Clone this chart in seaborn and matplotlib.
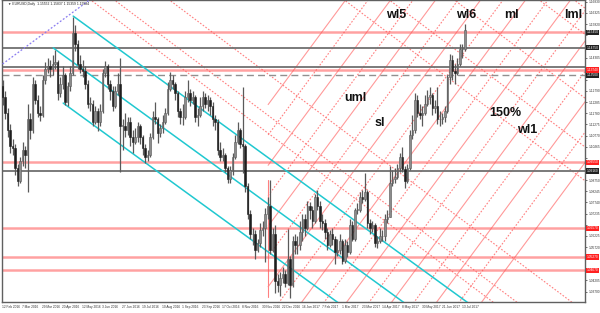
import numpy as np
import pandas as pd
import matplotlib
matplotlib.use("Agg")
import matplotlib.pyplot as plt
import seaborn as sns

sns.set_style("white")
plt.rcParams["font.family"] = ["Liberation Sans", "DejaVu Sans"]

# ---------------- data (2-day bars, EURUSD daily, Feb 2016 - Jul 2017) ----------------
first_open = 1.1300
close = [1.1250, 1.1180, 1.1100, 1.1030, 1.1020, 1.0930, 1.0870, 1.0960, 1.1010, 1.0990,
         1.1150, 1.1100, 1.1310, 1.1240, 1.1180, 1.1170, 1.1330, 1.1380, 1.1390, 1.1380,
         1.1400, 1.1410, 1.1270, 1.1310, 1.1350, 1.1230, 1.1300, 1.1360, 1.1540, 1.1490,
         1.1400, 1.1380, 1.1370, 1.1310, 1.1220, 1.1220, 1.1140, 1.1190, 1.1140, 1.1190,
         1.1360, 1.1390, 1.1310, 1.1280, 1.1210, 1.1280, 1.1310, 1.1120, 1.1120, 1.1100,
         1.1140, 1.1070, 1.1050, 1.1070, 1.1120, 1.1070, 1.1020, 1.0980, 1.0990, 1.1070,
         1.1160, 1.1150, 1.1090, 1.1110, 1.1140, 1.1180, 1.1290, 1.1330, 1.1310, 1.1270,
         1.1190, 1.1160, 1.1160, 1.1250, 1.1270, 1.1240, 1.1250, 1.1160, 1.1170, 1.1210,
         1.1250, 1.1220, 1.1240, 1.1210, 1.1150, 1.1140, 1.1010, 1.0980, 1.0990, 1.0930,
         1.0880, 1.0920, 1.0980, 1.1050, 1.1100, 1.1040, 1.1030, 1.0850, 1.0720, 1.0630,
         1.0630, 1.0560, 1.0590, 1.0650, 1.0660, 1.0720, 1.0760, 1.0560, 1.0630, 1.0420,
         1.0400, 1.0430, 1.0450, 1.0410, 1.0520, 1.0400, 1.0600, 1.0580, 1.0580, 1.0640,
         1.0700, 1.0660, 1.0760, 1.0740, 1.0690, 1.0800, 1.0760, 1.0690, 1.0680, 1.0640,
         1.0580, 1.0630, 1.0610, 1.0550, 1.0560, 1.0600, 1.0510, 1.0580, 1.0550, 1.0670,
         1.0610, 1.0740, 1.0740, 1.0800, 1.0790, 1.0820, 1.0680, 1.0660, 1.0670, 1.0590,
         1.0600, 1.0620, 1.0620, 1.0700, 1.0710, 1.0860, 1.0880, 1.0890, 1.0930, 1.0980,
         1.0925, 1.0870, 1.0930, 1.1080, 1.1100, 1.1240, 1.1180, 1.1170, 1.1180, 1.1220,
         1.1250, 1.1260, 1.1200, 1.1210, 1.1150, 1.1150, 1.1160, 1.1190, 1.1340, 1.1420,
         1.1370, 1.1360, 1.1400, 1.1470, 1.1470, 1.1555]
high = [1.1330, 1.1280, 1.1200, 1.1130, 1.1060, 1.1040, 1.0950, 1.0980, 1.1050, 1.1030,
        1.1220, 1.1180, 1.1340, 1.1330, 1.1260, 1.1210, 1.1350, 1.1410, 1.1430, 1.1420,
        1.1440, 1.1465, 1.1420, 1.1340, 1.1390, 1.1360, 1.1320, 1.1390, 1.1616, 1.1580,
        1.1510, 1.1440, 1.1420, 1.1390, 1.1330, 1.1250, 1.1240, 1.1210, 1.1200, 1.1220,
        1.1380, 1.1416, 1.1400, 1.1330, 1.1300, 1.1300, 1.1360, 1.1428, 1.1150, 1.1180,
        1.1160, 1.1160, 1.1100, 1.1110, 1.1140, 1.1130, 1.1080, 1.1040, 1.1010, 1.1090,
        1.1190, 1.1230, 1.1160, 1.1130, 1.1170, 1.1200, 1.1320, 1.1366, 1.1350, 1.1320,
        1.1280, 1.1200, 1.1220, 1.1280, 1.1327, 1.1290, 1.1280, 1.1260, 1.1200, 1.1250,
        1.1280, 1.1270, 1.1260, 1.1250, 1.1230, 1.1170, 1.1150, 1.1050, 1.1020, 1.1000,
        1.0940, 1.0940, 1.1000, 1.1080, 1.1140, 1.1110, 1.1299, 1.1040, 1.0860, 1.0740,
        1.0660, 1.0650, 1.0610, 1.0680, 1.0690, 1.0750, 1.0800, 1.0874, 1.0660, 1.0670,
        1.0450, 1.0460, 1.0480, 1.0470, 1.0652, 1.0530, 1.0620, 1.0630, 1.0620, 1.0690,
        1.0720, 1.0720, 1.0780, 1.0775, 1.0760, 1.0810, 1.0829, 1.0780, 1.0720, 1.0700,
        1.0660, 1.0650, 1.0660, 1.0620, 1.0610, 1.0630, 1.0610, 1.0610, 1.0600, 1.0700,
        1.0690, 1.0750, 1.0770, 1.0820, 1.0830, 1.0906, 1.0830, 1.0700, 1.0690, 1.0680,
        1.0620, 1.0660, 1.0650, 1.0720, 1.0740, 1.0937, 1.0920, 1.0930, 1.0950, 1.1000,
        1.1023, 1.0940, 1.0950, 1.1100, 1.1170, 1.1268, 1.1260, 1.1220, 1.1210, 1.1260,
        1.1285, 1.1296, 1.1270, 1.1240, 1.1296, 1.1190, 1.1180, 1.1210, 1.1350, 1.1445,
        1.1440, 1.1400, 1.1430, 1.1490, 1.1490, 1.1583]
low = [1.1215, 1.1150, 1.1070, 1.1000, 1.0990, 1.0900, 1.0850, 1.0860, 1.0940, 1.0930,
       1.0822, 1.1060, 1.1090, 1.1220, 1.1160, 1.1145, 1.1160, 1.1310, 1.1360, 1.1340,
       1.1350, 1.1380, 1.1240, 1.1250, 1.1290, 1.1215, 1.1210, 1.1280, 1.1350, 1.1460,
       1.1380, 1.1360, 1.1340, 1.1290, 1.1200, 1.1190, 1.1120, 1.1130, 1.1098, 1.1120,
       1.1180, 1.1340, 1.1290, 1.1240, 1.1190, 1.1200, 1.1260, 1.0912, 1.1010, 1.1070,
       1.1080, 1.1030, 1.1000, 1.1040, 1.1050, 1.1040, 1.0990, 1.0952, 1.0960, 1.0980,
       1.1060, 1.1130, 1.1045, 1.1070, 1.1090, 1.1130, 1.1170, 1.1280, 1.1290, 1.1240,
       1.1160, 1.1130, 1.1124, 1.1150, 1.1230, 1.1210, 1.1220, 1.1140, 1.1120, 1.1160,
       1.1190, 1.1200, 1.1190, 1.1170, 1.1120, 1.1100, 1.0990, 1.0960, 1.0960, 1.0910,
       1.0860, 1.0860, 1.0900, 1.0970, 1.1040, 1.1020, 1.0906, 1.0820, 1.0700, 1.0610,
       1.0580, 1.0518, 1.0550, 1.0570, 1.0620, 1.0506, 1.0700, 1.0540, 1.0550, 1.0366,
       1.0370, 1.0352, 1.0410, 1.0390, 1.0400, 1.0340, 1.0390, 1.0540, 1.0540, 1.0560,
       1.0600, 1.0620, 1.0650, 1.0700, 1.0660, 1.0680, 1.0740, 1.0660, 1.0650, 1.0610,
       1.0560, 1.0570, 1.0580, 1.0494, 1.0530, 1.0540, 1.0494, 1.0500, 1.0525, 1.0540,
       1.0600, 1.0600, 1.0720, 1.0730, 1.0770, 1.0780, 1.0660, 1.0630, 1.0640, 1.0570,
       1.0569, 1.0590, 1.0600, 1.0600, 1.0680, 1.0710, 1.0850, 1.0860, 1.0880, 1.0910,
       1.0910, 1.0840, 1.0860, 1.0920, 1.1060, 1.1090, 1.1160, 1.1150, 1.1120, 1.1170,
       1.1210, 1.1220, 1.1170, 1.1180, 1.1130, 1.1119, 1.1130, 1.1140, 1.1180, 1.1310,
       1.1330, 1.1310, 1.1350, 1.1390, 1.1430, 1.1460]
days_per_bar = 2

x_tick_labels = ["12 Feb 2016", "7 Mar 2016", "29 Mar 2016", "20 Apr 2016", "12 May 2016",
                 "3 Jun 2016", "27 Jun 2016", "19 Jul 2016", "10 Aug 2016", "1 Sep 2016",
                 "23 Sep 2016", "17 Oct 2016", "8 Nov 2016", "30 Nov 2016", "22 Dec 2016",
                 "16 Jan 2017", "7 Feb 2017", "1 Mar 2017", "23 Mar 2017", "14 Apr 2017",
                 "8 May 2017", "30 May 2017", "21 Jun 2017", "13 Jul 2017"]
days_per_x_label = 16

y_tick_values = [1.16830, 1.16325, 1.15820, 1.15315, 1.14810, 1.14305, 1.13800, 1.13295,
                 1.12790, 1.12285, 1.11780, 1.11275, 1.10770, 1.10265, 1.09760, 1.09255,
                 1.08750, 1.08245, 1.07740, 1.07235, 1.06730, 1.06225, 1.05720, 1.05215,
                 1.04710, 1.04205, 1.03700]

# horizontal levels
h_red = [1.1545, 1.1374, 1.0955, 1.0657, 1.0527, 1.0467]
h_gray = [1.1475, 1.1386, 1.0916]
h_dashed = [1.1350]
label_box_black = [1.1545, 1.1475, 1.1350, 1.0916]
label_box_red = [1.1374, 1.0955, 1.0657, 1.0527, 1.0467]

# descending cyan channel: anchor day, anchor price, common slope (price per day)
chan_bar = [57, 41, 49]
chan_price = [1.1618, 1.1474, 1.1224]
chan_slope = -0.000411

# blue dotted line
blue_bars = [-2, 70]
blue_prices = [1.1391, 1.1691]

# pink pitchfork: handle (day, low price, high price) and line families
fork_start_bar = 213
handle_prices = [1.0346, 1.0876]
ref_price = 1.1691
rise_slope = 0.000764
rise_solid_bars = [275, 311, 347, 383, 419, 455, 491, 527, 563]
rise_dot_bars = [293, 329, 365, 401, 437, 473, 509, 545]
fall_slope = -0.000425
fall_dot_bars = [71, 90, 134, 274, 310, 362, 430, 458]

texts = [("wl5", 307, 1.1623), ("wl6", 363, 1.1623), ("ml", 402, 1.1623), ("lml", 450, 1.1623),
         ("uml", 274, 1.1245), ("sl", 298, 1.1136), ("150%", 390, 1.1181), ("wl1", 412, 1.1100)]

# ---------------- figure ----------------
W, H = 600, 313
fig = plt.figure(figsize=(W / 100, H / 100), dpi=100)
ax = fig.add_axes([2 / W, 11 / H, 583 / W, 302 / H])
x_min, x_max = 0.24, 466.6
y_min, y_max = 1.0323, 1.1691
ax.set_xlim(x_min, x_max)
ax.set_ylim(y_min, y_max)

red_c = "#ff5555"
pink = "#ff8080"

for p in h_red:
    ax.axhline(p, color=red_c, lw=1.8, alpha=0.55, zorder=2)
for p in h_gray:
    ax.axhline(p, color="#707070", lw=1.3, zorder=2)
for p in h_dashed:
    ax.axhline(p, color="#909090", lw=1.0, ls=(0, (5, 3)), zorder=2)

ax.plot([fork_start_bar, fork_start_bar], handle_prices, color=pink, lw=0.8, zorder=1)
xr = np.array([fork_start_bar, 700])
for b in rise_solid_bars:
    ax.plot(xr, ref_price + rise_slope * (xr - b), color=pink, lw=0.8, alpha=0.8, zorder=1)
for b in rise_dot_bars:
    ax.plot(xr, ref_price + rise_slope * (xr - b), color=pink, lw=0.8, ls=(0, (1.5, 1.5)), zorder=1)
xf = np.array([-50, 700])
for b in fall_dot_bars:
    ax.plot(xf, ref_price + fall_slope * (xf - b), color=pink, lw=0.8, ls=(0, (1.5, 1.5)), zorder=1)

for b, p in zip(chan_bar, chan_price):
    xx = np.array([b, 700])
    df = pd.DataFrame({"x": xx, "y": p + chan_slope * (xx - b)})
    sns.lineplot(data=df, x="x", y="y", ax=ax, color="#20c8d0", lw=1.1, zorder=3)

ax.plot(blue_bars, blue_prices, color="#8a7cf0", lw=0.9, ls=(0, (1.5, 1.5)), zorder=3)

# candles
o = np.r_[first_open, close[:-1]]
c = np.array(close)
hi = np.array(high)
lo = np.array(low)
xc = np.arange(len(c)) * days_per_bar + 0.5
ax.vlines(xc, lo, hi, color="#5a5a5a", lw=0.9, zorder=4)
bull = c >= o
ax.bar(xc[bull], np.maximum(c - o, 0.0003)[bull], bottom=o[bull], width=1.3,
       color="#8c8c8c", edgecolor="#5a5a5a", lw=0.4, zorder=5)
ax.bar(xc[~bull], np.maximum(o - c, 0.0003)[~bull], bottom=c[~bull], width=1.3,
       color="#1e1e1e", edgecolor="#1e1e1e", lw=0.4, zorder=5)

for t, bx, py in texts:
    ax.text(bx, py, t, fontsize=9, fontweight="bold", color="#111111", va="center", zorder=6)

ax.text(0.01, 0.992, "\u25bc EURUSD,Daily  1.15552 1.15837 1.15359 1.15584", transform=ax.transAxes,
        fontsize=2.4, va="top", ha="left", color="#222222")

for s in ax.spines.values():
    s.set_color("#606060")
    s.set_linewidth(1.0)

boxed = label_box_black + label_box_red
px_per_price = 302 / (y_max - y_min)
shown = [v for v in y_tick_values if min(abs(v - b) for b in boxed) * px_per_price > 5]
ax.yaxis.tick_right()
ax.set_yticks(y_tick_values)
ax.set_yticklabels([f"{v:.5f}" if v in shown else "" for v in y_tick_values],
                   fontsize=2.3, color="#333333")
ax.tick_params(axis="y", length=1.5, width=0.5, pad=0.8, colors="#333333")
xt = np.arange(len(x_tick_labels)) * days_per_x_label
ax.set_xticks(xt)
ax.set_xticklabels(x_tick_labels, fontsize=2.3, ha="left", color="#333333")
ax.tick_params(axis="x", length=1.5, width=0.5, pad=1.0, colors="#333333")
ax.set_xlabel("")
ax.set_ylabel("")

for p in label_box_black:
    ax.text(1.003, (p - y_min) / (y_max - y_min), f"{p:.5f}", transform=ax.transAxes,
            fontsize=2.3, color="white", va="center", ha="left",
            bbox=dict(boxstyle="square,pad=0.2", fc="#222222", ec="none"))
for p in label_box_red:
    ax.text(1.003, (p - y_min) / (y_max - y_min), f"{p:.5f}", transform=ax.transAxes,
            fontsize=2.3, color="white", va="center", ha="left",
            bbox=dict(boxstyle="square,pad=0.2", fc="#ff2020", ec="none"))

fig.savefig("out.png", dpi=100)
